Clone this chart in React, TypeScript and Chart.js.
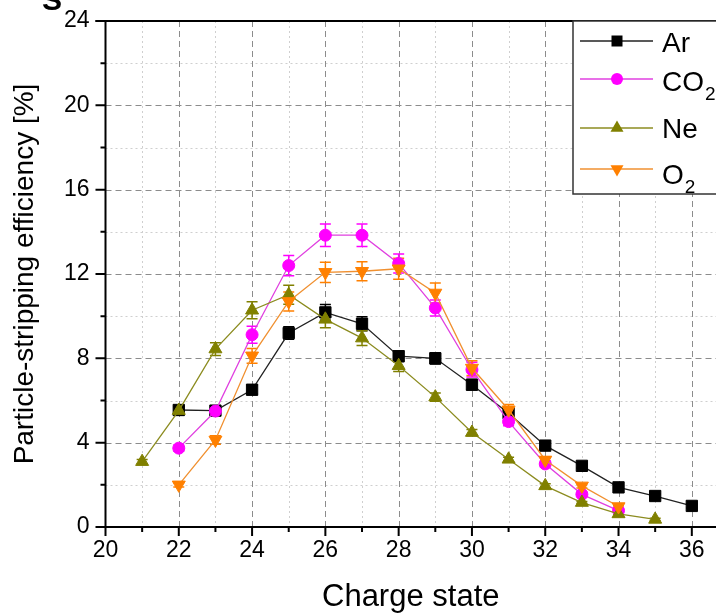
import React, { useEffect, useRef } from 'react';
import { Chart, registerables } from 'chart.js';

Chart.register(...registerables);

// ---- data ----
const seriesNames = ['Ar', 'CO2', 'Ne', 'O2'];
const legendMain = ['Ar', 'CO', 'Ne', 'O'];
const legendSub = ['', '2', '', '2'];
const seriesColors = ['#000000', '#ff00ff', '#808000', '#ff8000'];
const lineColors = ['#222222', '#e040e0', '#8c8c20', '#f09030'];

const chargeAr = [22, 23, 24, 25, 26, 27, 28, 29, 30, 31, 32, 33, 34, 35, 36];
const effAr = [5.55, 5.52, 6.51, 9.2, 10.18, 9.64, 8.1, 8.0, 6.75, 5.4, 3.86, 2.9, 1.88, 1.47, 1.0];
const errAr = [0.15, 0.15, 0.2, 0.3, 0.37, 0.33, 0.25, 0.27, 0.25, 0.2, 0.15, 0.1, 0.1, 0.1, 0.1];

const chargeCO2 = [22, 23, 24, 25, 26, 27, 28, 29, 30, 31, 32, 33, 34];
const effCO2 = [3.74, 5.5, 9.12, 12.4, 13.84, 13.84, 12.5, 10.39, 7.46, 5.0, 2.99, 1.55, 0.78];
const errCO2 = [0.15, 0.2, 0.4, 0.48, 0.53, 0.53, 0.45, 0.38, 0.35, 0.2, 0.15, 0.1, 0.05];

const chargeNe = [21, 22, 23, 24, 25, 26, 27, 28, 29, 30, 31, 32, 33, 34, 35];
const effNe = [3.1, 5.52, 8.44, 10.28, 11.02, 9.85, 8.96, 7.65, 6.16, 4.48, 3.21, 1.95, 1.16, 0.62, 0.36];
const errNe = [0.1, 0.2, 0.3, 0.4, 0.45, 0.4, 0.35, 0.28, 0.2, 0.15, 0.1, 0.1, 0.05, 0.05, 0.05];

const chargeO2 = [22, 23, 24, 25, 26, 27, 28, 29, 30, 31, 32, 33, 34];
const effO2 = [2.0, 4.13, 8.12, 10.7, 12.08, 12.13, 12.25, 11.1, 7.54, 5.56, 3.18, 1.95, 0.97];
const errO2 = [0.1, 0.2, 0.35, 0.45, 0.48, 0.45, 0.5, 0.47, 0.35, 0.25, 0.15, 0.1, 0.05];

const xMajorTicks = [20, 22, 24, 26, 28, 30, 32, 34, 36];
const xMinorTicks = [21, 23, 25, 27, 29, 31, 33, 35];
const yMajorTicks = [0, 4, 8, 12, 16, 20, 24];
const yMinorTicks = [2, 6, 10, 14, 18, 22];

const charges = [chargeAr, chargeCO2, chargeNe, chargeO2];
const effs = [effAr, effCO2, effNe, effO2];
const errs = [errAr, errCO2, errNe, errO2];
const pointStyles = ['rect', 'circle', 'triangle', 'triangle'];
const pointRadii = [8, 6, 7.5, 7.5];
const pointRotations = [0, 0, 0, 180];

const FONT = "'Liberation Sans', Arial, sans-serif";

const axesPlugin = {
  id: 'axesAndErrors',
  beforeDatasetsDraw(chart: any) {
    const { ctx, chartArea, scales } = chart;
    const { left, right, top, bottom } = chartArea;
    const xs = scales.x;
    const ys = scales.y;
    ctx.save();
    // minor grid
    ctx.lineWidth = 1;
    ctx.strokeStyle = '#cfcfcf';
    ctx.setLineDash([2, 3]);
    for (const v of xMinorTicks) {
      const px = Math.round(xs.getPixelForValue(v)) + 0.5;
      ctx.beginPath(); ctx.moveTo(px, top); ctx.lineTo(px, bottom); ctx.stroke();
    }
    for (const v of yMinorTicks) {
      const py = Math.round(ys.getPixelForValue(v)) + 0.5;
      ctx.beginPath(); ctx.moveTo(left, py); ctx.lineTo(right, py); ctx.stroke();
    }
    // major grid
    ctx.strokeStyle = '#8c8c8c';
    ctx.setLineDash([6, 4]);
    for (const v of xMajorTicks) {
      if (v === xMajorTicks[0]) continue;
      const px = Math.round(xs.getPixelForValue(v)) + 0.5;
      ctx.beginPath(); ctx.moveTo(px, top); ctx.lineTo(px, bottom); ctx.stroke();
    }
    for (const v of yMajorTicks) {
      if (v === yMajorTicks[0] || v === yMajorTicks[yMajorTicks.length - 1]) continue;
      const py = Math.round(ys.getPixelForValue(v)) + 0.5;
      ctx.beginPath(); ctx.moveTo(left, py); ctx.lineTo(right, py); ctx.stroke();
    }
    ctx.setLineDash([]);
    // axes
    ctx.strokeStyle = '#000';
    ctx.lineWidth = 2;
    ctx.beginPath();
    ctx.moveTo(left, top); ctx.lineTo(left, bottom + 1);
    ctx.moveTo(left - 1, bottom); ctx.lineTo(right, bottom);
    ctx.moveTo(left - 10, top); ctx.lineTo(right, top);
    ctx.stroke();
    // ticks
    ctx.lineWidth = 2;
    ctx.beginPath();
    for (const v of yMajorTicks) {
      const py = ys.getPixelForValue(v);
      ctx.moveTo(left - 10, py); ctx.lineTo(left, py);
    }
    for (const v of yMinorTicks) {
      const py = ys.getPixelForValue(v);
      ctx.moveTo(left - 5, py); ctx.lineTo(left, py);
    }
    for (const v of xMajorTicks) {
      const px = xs.getPixelForValue(v);
      ctx.moveTo(px, bottom); ctx.lineTo(px, bottom + 9);
    }
    for (const v of xMinorTicks) {
      const px = xs.getPixelForValue(v);
      ctx.moveTo(px, bottom); ctx.lineTo(px, bottom + 5);
    }
    ctx.stroke();
    // error bars
    ctx.lineWidth = 1.5;
    for (let s = 0; s < charges.length; s++) {
      ctx.strokeStyle = seriesColors[s];
      ctx.beginPath();
      for (let i = 0; i < charges[s].length; i++) {
        const px = xs.getPixelForValue(charges[s][i]);
        const y1 = ys.getPixelForValue(effs[s][i] + errs[s][i]);
        const y2 = ys.getPixelForValue(effs[s][i] - errs[s][i]);
        ctx.moveTo(px, y1); ctx.lineTo(px, y2);
        ctx.moveTo(px - 5.5, y1); ctx.lineTo(px + 5.5, y1);
        ctx.moveTo(px - 5.5, y2); ctx.lineTo(px + 5.5, y2);
      }
      ctx.stroke();
    }
    ctx.restore();
  },
  afterDraw(chart: any) {
    const { ctx } = chart;
    ctx.save();
    // fragment of panel label
    ctx.fillStyle = '#000';
    ctx.font = `bold 30px ${FONT}`;
    ctx.textBaseline = 'alphabetic';
    ctx.fillText('S', 42, 10);
    // legend
    const bx = 573, by = 21, bh = 173;
    ctx.fillStyle = '#fff';
    ctx.fillRect(bx, by, 200, bh);
    ctx.strokeStyle = '#333';
    ctx.lineWidth = 1.5;
    ctx.strokeRect(bx, by, 200, bh);
    const rowY = [41, 79, 128, 169];
    const baseY = [52, 90.5, 138, 184];
    for (let s = 0; s < seriesNames.length; s++) {
      const y = rowY[s];
      ctx.strokeStyle = lineColors[s];
      ctx.lineWidth = 1.3;
      ctx.beginPath(); ctx.moveTo(580, y); ctx.lineTo(653, y); ctx.stroke();
      ctx.fillStyle = seriesColors[s];
      ctx.beginPath();
      const cx = 617;
      if (s === 0) {
        ctx.rect(cx - 5.5, y - 5.5, 11, 11);
      } else if (s === 1) {
        ctx.arc(cx, y, 6, 0, Math.PI * 2);
      } else if (s === 2) {
        ctx.moveTo(cx, y - 7.5); ctx.lineTo(cx + 6.5, y + 3.75); ctx.lineTo(cx - 6.5, y + 3.75); ctx.closePath();
      } else {
        ctx.moveTo(cx, y + 7.5); ctx.lineTo(cx + 6.5, y - 3.75); ctx.lineTo(cx - 6.5, y - 3.75); ctx.closePath();
      }
      ctx.fill();
      ctx.fillStyle = '#000';
      ctx.font = `28px ${FONT}`;
      ctx.textBaseline = 'alphabetic';
      ctx.fillText(legendMain[s], 662, baseY[s]);
      if (legendSub[s]) {
        const w = ctx.measureText(legendMain[s]).width;
        ctx.font = `19px ${FONT}`;
        ctx.fillText(legendSub[s], 662 + w + 1, baseY[s] + 9);
      }
    }
    ctx.restore();
  },
};

export default function App() {
  const ref = useRef<HTMLCanvasElement | null>(null);
  useEffect(() => {
    document.body.style.margin = '0';
    const canvas = ref.current;
    if (!canvas) return;
    const datasets = seriesNames.map((name, s) => ({
      label: name,
      data: charges[s].map((c, i) => ({ x: c, y: effs[s][i] })),
      borderColor: lineColors[s],
      backgroundColor: seriesColors[s],
      borderWidth: 1.3,
      pointStyle: pointStyles[s] as any,
      pointRadius: pointRadii[s],
      pointRotation: pointRotations[s],
      pointBackgroundColor: seriesColors[s],
      pointBorderColor: seriesColors[s],
      pointBorderWidth: 1,
      tension: 0,
      fill: false,
      clip: 10,
      order: 3 - s,
    }));
    const chart = new Chart(canvas, {
      type: 'line',
      data: { datasets },
      options: {
        animation: false,
        responsive: false,
        devicePixelRatio: 1,
        layout: { autoPadding: false, padding: { top: 21, left: 0, right: 0, bottom: 0 } },
        plugins: { legend: { display: false }, tooltip: { enabled: false } },
        scales: {
          x: {
            type: 'linear',
            min: 20,
            max: 36.66,
            afterBuildTicks: (sc: any) => {
              sc.ticks = xMajorTicks.map((v) => ({ value: v }));
            },
            afterFit: (sc: any) => {
              sc.height = 89;
              sc.paddingLeft = 0;
              sc.paddingRight = 0;
            },
            grid: { display: false, drawTicks: false, tickLength: 0 },
            border: { display: false },
            ticks: {
              autoSkip: false,
              maxRotation: 0,
              padding: 10,
              color: '#000',
              font: { family: FONT, size: 23 },
            },
            title: {
              display: true,
              text: 'Charge state',
              color: '#000',
              font: { family: FONT, size: 31 },
              padding: { top: 0, bottom: 0 },
            },
          },
          y: {
            type: 'linear',
            min: 0,
            max: 24,
            afterBuildTicks: (sc: any) => {
              sc.ticks = yMajorTicks.map((v) => ({ value: v }));
            },
            afterFit: (sc: any) => {
              sc.width = 105.5;
              sc.paddingTop = 0;
              sc.paddingBottom = 0;
            },
            grid: { display: false, drawTicks: false, tickLength: 0 },
            border: { display: false },
            ticks: {
              padding: 16,
              color: '#000',
              font: { family: FONT, size: 23 },
            },
            title: {
              display: true,
              text: 'Particle-stripping efficiency [%]',
              color: '#000',
              font: { family: FONT, size: 28 },
              padding: { top: 8, bottom: 0 },
            },
          },
        },
      },
      plugins: [axesPlugin],
    });
    return () => chart.destroy();
  }, []);
  return (
    <div style={{ width: 716, height: 616 }}>
      <canvas ref={ref} width={716} height={616} style={{ display: 'block' }} />
    </div>
  );
}
